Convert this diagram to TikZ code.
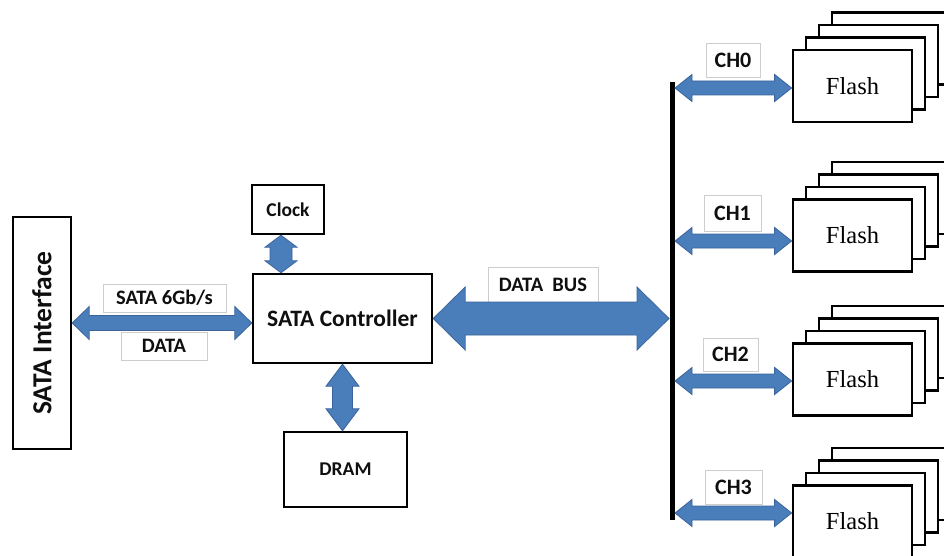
\documentclass[tikz,border=0pt]{standalone}
\usepackage{fontspec}
\setmainfont{Liberation Serif}
\newfontfamily\calfont{Carlito}
\usetikzlibrary{calc}
\definecolor{arrfill}{RGB}{74,126,187}
\definecolor{arrline}{RGB}{58,100,155}
\definecolor{lblline}{RGB}{205,205,205}
\definecolor{txt}{RGB}{15,15,15}
\tikzset{
  blk/.style={draw=black, line width=2.4pt, fill=white, inner sep=0pt, text=txt},
  lbl/.style={draw=lblline, line width=0.8pt, fill=white, inner sep=0pt, text=txt,
    font=\calfont\bfseries\fontsize{20.5}{20.5}\selectfont},
  chlbl/.style={lbl, font=\calfont\bfseries\fontsize{22}{22}\selectfont},
  flashbox/.style={draw=black, line width=2.8pt, fill=white, minimum width=119pt,
    minimum height=72pt, inner sep=0pt, font=\fontsize{24.5}{24.5}\selectfont},
  barr/.style={fill=arrfill, draw=arrline, line width=0.8pt, line join=miter},
  busline/.style={line width=5pt, draw=black},
}
% horizontal double block arrow: from, to, shaft half, head half, head length
\newcommand{\harr}[5]{%
  \path[barr] let \p1=#1, \p2=#2 in
    (\x1,\y1) -- (\x1+#5,\y1+#4) -- (\x1+#5,\y1+#3) -- (\x2-#5,\y1+#3) -- (\x2-#5,\y1+#4)
    -- (\x2,\y1) -- (\x2-#5,\y1-#4) -- (\x2-#5,\y1-#3) -- (\x1+#5,\y1-#3) -- (\x1+#5,\y1-#4) -- cycle;}
% vertical double block arrow: top, bottom, shaft half, head half, head length
\newcommand{\varr}[5]{%
  \path[barr] let \p1=#1, \p2=#2 in
    (\x1,\y1) -- (\x1+#4,\y1-#5) -- (\x1+#3,\y1-#5) -- (\x1+#3,\y2+#5) -- (\x1+#4,\y2+#5)
    -- (\x1,\y2) -- (\x1-#4,\y2+#5) -- (\x1-#3,\y2+#5) -- (\x1-#3,\y1-#5) -- (\x1-#4,\y1-#5) -- cycle;}
\begin{document}
\begin{tikzpicture}[x=1pt, y=-1pt]
\useasboundingbox[fill=white] (0,0) rectangle (944,556);

% left side
\node[blk, minimum width=58pt, minimum height=232pt] (sif) at (42,333) {};
\node[text=txt, rotate=90, font=\calfont\bfseries\fontsize{27.5}{27.5}\selectfont] (siftext) at (sif.center) {SATA Interface};
\node[blk, minimum width=72pt, minimum height=49pt, font=\calfont\bfseries\fontsize{19.5}{19.5}\selectfont] (clk) at (288,209.5) {Clock};
\node[blk, minimum width=179pt, minimum height=89pt, font=\calfont\bfseries\fontsize{23.5}{23.5}\selectfont] (ctrl) at (342.5,318.5) {SATA Controller};
\node[blk, minimum width=123pt, minimum height=75pt, font=\calfont\bfseries\fontsize{19.5}{19.5}\selectfont] (dram) at (345.5,469.5) {DRAM};

% labels
\node[lbl, minimum width=123pt, minimum height=28pt] (l6g) at (164.5,298) {SATA 6Gb/s};
\node[lbl, minimum width=86pt, minimum height=28pt] (ldata) at (164,346) {DATA};
\node[lbl, minimum width=110pt, minimum height=35pt] (lbus) at (543,284.5) {DATA\ \ BUS};

% bus line
\coordinate (bustop) at (672.5,82);
\coordinate (busbot) at (672.5,520);
\coordinate (busin) at (669,318);
\draw[busline] (bustop) -- (busbot);

% flash stacks
\foreach \i/\yy in {0/86, 1/235.5, 2/379.5, 3/521.5}{
  \node[flashbox] (fl\i c) at (852.5+39,\yy-37.5) {};
  \node[flashbox] (fl\i b) at (852.5+26,\yy-25) {};
  \node[flashbox] (fl\i a) at (852.5+13,\yy-12.5) {};
  \node[flashbox] (fl\i) at (852.5,\yy) {Flash};
}

% channel labels
\node[chlbl, minimum width=54pt, minimum height=34pt] (lch0) at (733,60) {CH0};
\node[chlbl, minimum width=57pt, minimum height=36pt] (lch1) at (732.5,213) {CH1};
\node[chlbl, minimum width=55pt, minimum height=33pt] (lch2) at (730.5,354.5) {CH2};
\node[chlbl, minimum width=57pt, minimum height=34pt] (lch3) at (733.5,487) {CH3};

\coordinate (ch0) at (675,88);
\coordinate (ch1) at (675,241);
\coordinate (ch2) at (675,381);
\coordinate (ch3) at (675,513);

% arrows
\harr{($(sif.east)+(0,-10)$)}{(ctrl.west)}{7.5pt}{16.5pt}{17pt}
\harr{(ctrl.east)}{(busin)}{16.5pt}{31.5pt}{32pt}
\varr{($(clk.south)+(-7,0)$)}{(ctrl.north)}{11pt}{16pt}{12pt}
\varr{(ctrl.south)}{(dram.north)}{10pt}{16.5pt}{22pt}
\foreach \i in {0,1,2,3}{
  \harr{(ch\i)}{(fl\i.west)}{7pt}{13.5pt}{17pt}
}
\end{tikzpicture}
\end{document}
